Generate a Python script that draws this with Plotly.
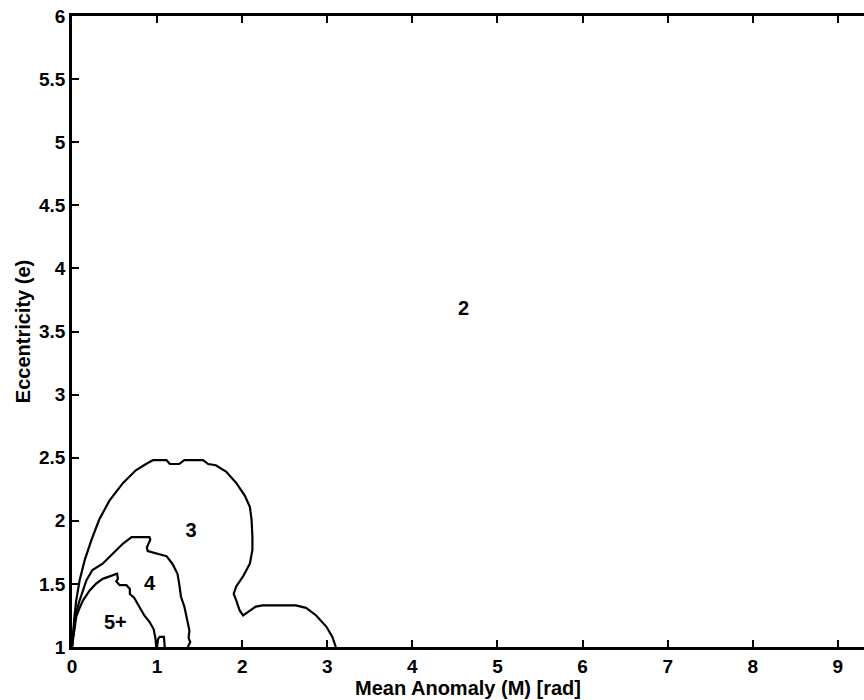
import plotly.graph_objects as go

# Contour boundaries (Mean anomaly M [rad], eccentricity e)
c3_M = [0.0, 0.01, 0.03, 0.05, 0.09, 0.15, 0.23, 0.32, 0.44, 0.60, 0.75, 0.87, 0.95, 1.11, 1.15, 1.26,
        1.32, 1.54, 1.60, 1.69, 1.81, 1.93, 2.03, 2.09, 2.11, 2.12, 2.12, 2.09, 2.01, 1.93, 1.90, 1.93,
        1.97, 2.01, 2.07, 2.16, 2.24, 2.63, 2.75, 2.87, 2.99, 3.06, 3.10]
c3_e = [1.0, 1.10, 1.25, 1.37, 1.53, 1.69, 1.85, 2.01, 2.16, 2.30, 2.40, 2.45, 2.48, 2.48, 2.45, 2.45,
        2.48, 2.48, 2.45, 2.44, 2.39, 2.30, 2.20, 2.11, 2.01, 1.87, 1.77, 1.66, 1.56, 1.48, 1.42, 1.37,
        1.29, 1.25, 1.28, 1.32, 1.33, 1.33, 1.31, 1.25, 1.16, 1.08, 1.0]

c4_M = [0.0, 0.01, 0.03, 0.06, 0.09, 0.17, 0.24, 0.36, 0.48, 0.60, 0.70, 0.81, 0.91, 0.92, 0.88, 0.89,
        0.99, 1.11, 1.18, 1.24, 1.26, 1.28, 1.32, 1.36, 1.38, 1.37, 1.39, 1.36]
c4_e = [1.0, 1.08, 1.20, 1.30, 1.37, 1.53, 1.61, 1.66, 1.74, 1.82, 1.87, 1.87, 1.87, 1.85, 1.79, 1.76,
        1.74, 1.72, 1.66, 1.58, 1.50, 1.40, 1.32, 1.21, 1.13, 1.07, 1.04, 1.0]

c5_M = [0.0, 0.02, 0.05, 0.09, 0.13, 0.21, 0.28, 0.36, 0.48, 0.53, 0.54, 0.52, 0.56, 0.64, 0.68, 0.68,
        0.73, 0.79, 0.85, 0.91, 0.96, 0.98, 0.99]
c5_e = [1.0, 1.10, 1.24, 1.31, 1.37, 1.45, 1.50, 1.54, 1.57, 1.58, 1.54, 1.52, 1.49, 1.49, 1.46, 1.42,
        1.39, 1.32, 1.25, 1.20, 1.14, 1.07, 1.0]

bump_M = [1.00, 1.01, 1.03, 1.08, 1.09]
bump_e = [1.0, 1.06, 1.08, 1.08, 1.0]

label_text = ["2", "3", "4", "5+"]
label_M = [4.60, 1.40, 0.91, 0.51]
label_e = [3.67, 1.91, 1.49, 1.18]

x_ticks = [0, 1, 2, 3, 4, 5, 6, 7, 8, 9]
y_ticks = [1, 1.5, 2, 2.5, 3, 3.5, 4, 4.5, 5, 5.5, 6]
y_tick_text = ["1", "1.5", "2", "2.5", "3", "3.5", "4", "4.5", "5", "5.5", "6"]

FONT = "Liberation Sans, Arial, sans-serif"
line_style = dict(color="black", width=2.2)

fig = go.Figure()
for xs, ys in [(c3_M, c3_e), (c4_M, c4_e), (c5_M, c5_e), (bump_M, bump_e)]:
    fig.add_trace(go.Scatter(x=xs, y=ys, mode="lines", line=line_style,
                             hoverinfo="skip", showlegend=False))

fig.add_trace(go.Scatter(x=label_M, y=label_e, text=label_text, mode="text",
                         textfont=dict(family=FONT, size=20, color="black", weight="bold"),
                         showlegend=False, hoverinfo="skip"))

fig.update_layout(
    width=864, height=700,
    margin=dict(l=72, r=0, t=16, b=53),
    plot_bgcolor="white", paper_bgcolor="white",
    font=dict(family=FONT, size=18, color="black", weight="bold"),
    showlegend=False,
)
fig.update_xaxes(
    range=[0, 9.307], tickvals=x_ticks, showgrid=False, zeroline=False,
    showline=True, linecolor="black", linewidth=2.5, mirror="ticks",
    ticks="inside", ticklen=7, tickwidth=1.8, tickcolor="black",
    tickfont=dict(family=FONT, size=19, color="black", weight="bold"),
    title=dict(text="Mean Anomaly (M) [rad]", standoff=0,
               font=dict(family=FONT, size=20, color="black", weight="bold")),
)
fig.update_yaxes(
    range=[1, 6], tickvals=y_ticks, ticktext=y_tick_text, showgrid=False, zeroline=False,
    showline=True, linecolor="black", linewidth=2.5, mirror=False,
    ticks="inside", ticklen=7, tickwidth=1.8, tickcolor="black",
    tickfont=dict(family=FONT, size=19, color="black", weight="bold"),
    title=dict(text="Eccentricity (e)", standoff=4,
               font=dict(family=FONT, size=20, color="black", weight="bold")),
)

fig.write_html("out.html")
